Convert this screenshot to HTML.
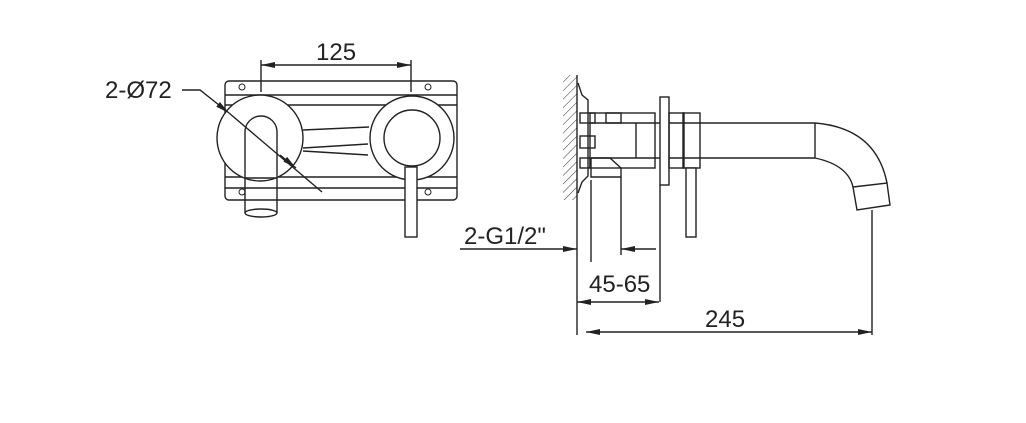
<!DOCTYPE html>
<html><head><style>
html,body{margin:0;padding:0;background:#fff;}
svg{display:block;}
text{font-family:"Liberation Sans",sans-serif;font-size:24px;fill:#222;}
</style></head><body>
<svg width="1026" height="423" viewBox="0 0 1026 423" xmlns="http://www.w3.org/2000/svg">
<defs>
<marker id="a" markerWidth="14" markerHeight="6" refX="14" refY="3" orient="auto" markerUnits="userSpaceOnUse"><path d="M0,0 L14,3 L0,6 Z" fill="#222"/></marker>
<pattern id="h" width="6" height="6" patternUnits="userSpaceOnUse" patternTransform="rotate(45)"><line x1="0" y1="0" x2="0" y2="6" stroke="#333" stroke-width="1"/></pattern>
</defs>
<g fill="none" stroke="#222" stroke-width="1.4">
<rect x="225" y="81" width="232" height="119" rx="4"/>
<line x1="225" y1="95" x2="457" y2="95"/><line x1="225" y1="105" x2="457" y2="105"/>
<line x1="225" y1="177" x2="457" y2="177"/><line x1="225" y1="188" x2="457" y2="188"/>
<g fill="#fff"><circle cx="260" cy="138" r="43"/><circle cx="412" cy="138" r="42"/></g>
<circle cx="412" cy="138" r="28"/>
<line x1="303" y1="130" x2="369" y2="127"/><line x1="303" y1="148" x2="368" y2="144"/><line x1="303" y1="151" x2="368" y2="155"/>
<path d="M245,178 L245,132 A16,16 0 0 1 277,132 L277,178" fill="#fff"/>
<path d="M245,178 L245,213 M277,178 L277,213 M245,178 L277,178"/>
<ellipse cx="261" cy="213" rx="16" ry="4"/>
<rect x="405" y="167" width="12" height="70" fill="#fff"/>
<g stroke-width="1"><circle cx="242" cy="87" r="3"/><circle cx="428" cy="87" r="3"/><circle cx="242" cy="192" r="3"/><circle cx="428" cy="192" r="3"/></g>
<line x1="261" y1="60" x2="261" y2="92"/><line x1="411" y1="60" x2="411" y2="92"/>
<line x1="336" y1="65" x2="261" y2="65" marker-end="url(#a)"/><line x1="336" y1="65" x2="411" y2="65" marker-end="url(#a)"/>
<path d="M182,90 L200,90 L229,113" marker-end="url(#a)"/>
<line x1="229" y1="113" x2="322" y2="192"/>
<line x1="280" y1="155" x2="296" y2="168" marker-end="url(#a)"/>
<rect x="563" y="75" width="14" height="125" fill="url(#h)" stroke="none"/>
<line x1="577" y1="75" x2="577" y2="335"/>
<path d="M578,83 L582,95 L588,100 L588,176 L582,182 L578,193"/>
<rect x="580" y="113" width="15" height="10"/><rect x="580" y="136" width="15" height="12"/><rect x="580" y="158" width="10" height="10"/>
<rect x="590" y="113" width="65" height="55"/>
<rect x="606" y="113" width="15" height="10"/>
<path d="M591,158 L610,158 L621,168 L621,177 L591,177 Z"/>
<line x1="636" y1="123" x2="636" y2="158"/>
<line x1="591" y1="123" x2="660" y2="123"/><line x1="591" y1="158" x2="660" y2="158"/>
<rect x="660" y="97" width="9" height="88" fill="#fff"/>
<rect x="669" y="113" width="15" height="55"/>
<rect x="683" y="113" width="17" height="55"/>
<line x1="669" y1="123" x2="815" y2="123"/><line x1="669" y1="158" x2="815" y2="158"/>
<line x1="815" y1="123" x2="815" y2="158"/>
<path d="M815,123 Q876,128 887,183"/>
<path d="M815,158 Q848,165 853,187"/>
<path d="M853,187 L887,183 L890,205 L857,210 Z"/>
<rect x="686" y="168" width="10" height="69" fill="#fff"/>
<line x1="591" y1="180" x2="591" y2="262"/><line x1="621" y1="177" x2="621" y2="255"/>
<line x1="660" y1="185" x2="660" y2="302"/>
<line x1="872" y1="210" x2="872" y2="335"/>
<line x1="460" y1="249" x2="577" y2="249" marker-end="url(#a)"/>
<line x1="656" y1="249" x2="621" y2="249" marker-end="url(#a)"/>
<line x1="618" y1="302" x2="577" y2="302" marker-end="url(#a)"/><line x1="618" y1="302" x2="659" y2="302" marker-end="url(#a)"/>
<line x1="728" y1="332" x2="586" y2="332" marker-end="url(#a)"/><line x1="728" y1="332" x2="872" y2="332" marker-end="url(#a)"/>
</g>
<text x="316" y="60">125</text>
<text x="105" y="98">2-Ø72</text>
<text x="464" y="244">2-G1/2"</text>
<text x="589" y="292">45-65</text>
<text x="705" y="327">245</text>
</svg>
</body></html>
